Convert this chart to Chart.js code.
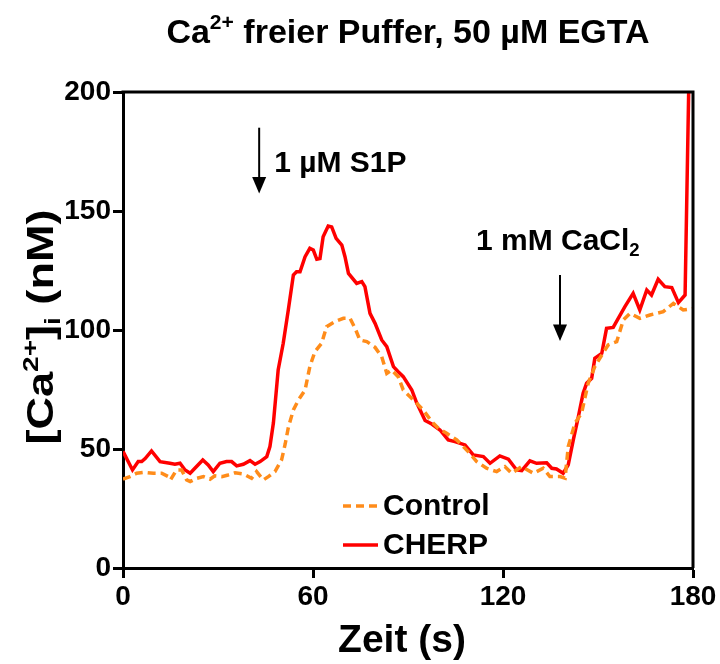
<!DOCTYPE html>
<html>
<head>
<meta charset="utf-8">
<script src="https://cdn.jsdelivr.net/npm/chart.js@4.4.1/dist/chart.umd.min.js"></script>
<style>
  html, body { margin: 0; padding: 0; background: #fff; }
  canvas { display: block; }
</style>
</head>
<body>
<canvas id="c" width="720" height="664"></canvas>
<script>
// Time (s) and intracellular calcium (nM) for each trace
const controlTime = [0, 2.2, 4.3, 6.9, 9.6, 12.2, 14.3, 15, 16.9, 18.5, 20.1, 21.2, 23.3, 25.4, 27.5, 29, 31.2, 33.2, 35.4, 38, 40.6, 42.2, 44.3, 45.9, 48, 50.1, 51.2, 52.2, 53.8, 55.4, 57.5, 59, 60.6, 62.7, 64.3, 66.9, 69.6, 71.7, 73.3, 74.8, 77, 79.6, 81.7, 83.3, 84.8, 86.9, 88.5, 91.7, 94.8, 97.5, 99.6, 102.2, 105.4, 109, 111.7, 114.8, 118, 120.6, 122.7, 125.9, 129.6, 132.7, 134.8, 138, 139.6, 140.6, 142.7, 144.8, 146.9, 149, 151.2, 153.2, 155.9, 158, 160.1, 163.2, 166.4, 170.6, 173.8, 176.9, 180];
const controlCa = [37.3, 38.4, 39.8, 40.2, 39.8, 39.8, 38.4, 37, 41.2, 41.2, 37, 36.3, 37.7, 38.4, 37.3, 38.7, 38.4, 39.1, 40, 39.5, 37.7, 40.5, 37, 38.4, 40.5, 45.5, 52, 59, 66.4, 70.6, 74.8, 84.6, 90.9, 94.4, 101.4, 103.5, 104.9, 104.9, 100.7, 95.8, 95.1, 92.7, 88.8, 81.8, 83.2, 80.4, 74.8, 70.6, 66.4, 61.5, 58.7, 56.6, 53.8, 48.9, 44.7, 41.9, 40.5, 42.6, 39.8, 42.6, 39.8, 41.9, 38.4, 38.4, 37.7, 51, 60.8, 65, 77.6, 84.6, 89.5, 93.7, 95.1, 104.2, 107, 104.9, 106.3, 107.7, 111.2, 108.4, 109];

const cherpTime = [0, 3, 4.8, 5.9, 7, 9, 11.7, 14.8, 16.4, 18, 19.6, 21.2, 22.7, 25.2, 26.9, 28.5, 30.6, 32.7, 34.3, 35.9, 38, 40.1, 41.7, 43.3, 45.4, 46.4, 47.5, 49, 50.6, 52.2, 53.8, 54.8, 55.9, 57.5, 59, 60.1, 61.2, 62.2, 63.2, 64.8, 65.9, 67.3, 69.1, 70.1, 71.2, 73.8, 75.4, 76.4, 78, 79.6, 81.7, 83.3, 85.4, 86.9, 88.5, 91.2, 92.7, 95.4, 97.5, 100.1, 102.7, 104.8, 108, 110.6, 113.8, 115.9, 119, 121.7, 124.3, 125.9, 128.5, 130.6, 133.8, 135.4, 136.9, 139, 140.6, 142.2, 143.8, 145.3, 146.4, 148, 149, 151.2, 152.7, 154.8, 156.4, 158.5, 161.1, 163.2, 165.4, 166.9, 169, 171.1, 173.3, 175.4, 177.5, 178.7];
const cherpCa = [49, 41.2, 44.7, 44.7, 46, 49.2, 44.7, 44, 43.6, 44, 41.2, 39.8, 41.9, 45.4, 43.3, 40.5, 44, 44.7, 44.7, 42.9, 43.6, 45.1, 43.6, 44.7, 46.8, 51, 61, 83.2, 94.4, 108.4, 123.1, 124.5, 124.5, 130.8, 134.3, 133.6, 129.7, 130, 139.2, 143.7, 143.3, 138.5, 135.7, 130.8, 123.8, 119.6, 120.3, 118.2, 107, 102.8, 95.8, 93, 84.6, 82.5, 80.4, 74.8, 69.5, 62, 60.5, 58, 53.8, 53.1, 51.7, 47.5, 46.8, 44, 47.1, 45.7, 41.2, 40.9, 45, 44, 44.2, 41.9, 41.6, 39.8, 43.3, 53.8, 63.6, 73.4, 77.6, 79.7, 88.1, 90.2, 100.7, 101.1, 104.9, 109.8, 115.4, 108.4, 116.8, 114.7, 121.3, 118.2, 117.8, 111.5, 114.7, 205];

const xTicks = [0, 60, 120, 180];
const yTicks = [0, 50, 100, 150, 200];
const seriesNames = ['Control', 'CHERP'];

// Stimulus markers: time (s) and arrow extent in nM
const s1pMark = { t: 43, from: 185, to: 157.4 };
const caMark = { t: 138, from: 123.1, to: 95.4 };

const FONT = "'Liberation Sans', Arial, Helvetica, sans-serif";
const ORANGE = '#FF8C1A';
const RED = '#FF0000';

// Draws text made of normal / superscript / subscript pieces
function richWidth(ctx, segs, size) {
  let w = 0;
  for (const s of segs) {
    const sz = s.k === 'n' ? size : size * 0.62;
    ctx.font = `bold ${sz}px ${FONT}`;
    w += ctx.measureText(s.t).width;
  }
  return w;
}
function drawRich(ctx, segs, x, y, size, align) {
  const w = richWidth(ctx, segs, size);
  let cx = align === 'center' ? x - w / 2 : x;
  ctx.textAlign = 'left';
  ctx.textBaseline = 'alphabetic';
  for (const s of segs) {
    const sz = s.k === 'n' ? size : size * 0.62;
    const dy = s.k === 'sup' ? -size * 0.4 : (s.k === 'sub' ? size * 0.2 : 0);
    ctx.font = `bold ${sz}px ${FONT}`;
    ctx.fillText(s.t, cx, y + dy);
    cx += ctx.measureText(s.t).width;
  }
}
function arrowDown(ctx, x, yTop, yTip) {
  const head = 16.5, half = 7;
  ctx.strokeStyle = '#000';
  ctx.fillStyle = '#000';
  ctx.lineWidth = 2;
  ctx.beginPath();
  ctx.moveTo(x, yTop);
  ctx.lineTo(x, yTip - head + 2);
  ctx.stroke();
  ctx.beginPath();
  ctx.moveTo(x - half, yTip - head);
  ctx.lineTo(x + half, yTip - head);
  ctx.lineTo(x, yTip);
  ctx.closePath();
  ctx.fill();
}

const decor = {
  id: 'decor',
  afterDraw(chart) {
    const ctx = chart.ctx;
    const a = chart.chartArea;
    const xs = chart.scales.x, ys = chart.scales.y;
    ctx.save();

    // closing frame on top and right
    ctx.strokeStyle = '#000';
    ctx.lineWidth = 3;
    ctx.beginPath();
    ctx.moveTo(a.left - 1.5, a.top);
    ctx.lineTo(a.right, a.top);
    ctx.lineTo(a.right, a.bottom);
    ctx.stroke();

    ctx.fillStyle = '#000';
    // title
    drawRich(ctx, [{ t: 'Ca', k: 'n' }, { t: '2+', k: 'sup' }, { t: ' freier Puffer, 50 µM EGTA', k: 'n' }],
      (a.left + a.right) / 2, 43, 34, 'center');

    // x axis title
    drawRich(ctx, [{ t: 'Zeit (s)', k: 'n' }], 402, 652, 39, 'center');

    // y axis title (slightly widened lettering)
    ctx.save();
    ctx.translate(53, 327);
    ctx.rotate(-Math.PI / 2);
    ctx.scale(1.22, 1);
    drawRich(ctx, [{ t: '[Ca', k: 'n' }, { t: '2+', k: 'sup' }, { t: ']', k: 'n' }, { t: 'i', k: 'sub' }, { t: ' (nM)', k: 'n' }],
      0, 0, 37, 'center');
    ctx.restore();

    // stimulus arrows and labels
    const sx = xs.getPixelForValue(s1pMark.t);
    arrowDown(ctx, sx, ys.getPixelForValue(s1pMark.from), ys.getPixelForValue(s1pMark.to));
    ctx.fillStyle = '#000';
    drawRich(ctx, [{ t: '1 µM S1P', k: 'n' }], sx + 15, 172, 30, 'left');

    const cx = xs.getPixelForValue(caMark.t);
    arrowDown(ctx, cx, ys.getPixelForValue(caMark.from), ys.getPixelForValue(caMark.to));
    ctx.fillStyle = '#000';
    drawRich(ctx, [{ t: '1 mM CaCl', k: 'n' }, { t: '2', k: 'sub' }], cx - 84, 250, 30, 'left');

    // legend
    const lx0 = 343, lx1 = 378;
    const rows = [
      { y: 506, color: ORANGE, dash: [8, 5] },
      { y: 545, color: RED, dash: [] }
    ];
    rows.forEach((r, i) => {
      ctx.strokeStyle = r.color;
      ctx.lineWidth = 3.5;
      ctx.setLineDash(r.dash);
      ctx.beginPath();
      ctx.moveTo(lx0, r.y);
      ctx.lineTo(lx1, r.y);
      ctx.stroke();
      ctx.setLineDash([]);
      ctx.fillStyle = '#000';
      ctx.font = `bold 30px ${FONT}`;
      ctx.textAlign = 'left';
      ctx.textBaseline = 'middle';
      ctx.fillText(seriesNames[i], 383, r.y + 1);
    });
    ctx.restore();
  }
};

Chart.defaults.font.family = FONT;
Chart.defaults.color = '#000';

new Chart(document.getElementById('c').getContext('2d'), {
  type: 'line',
  data: {
    datasets: [
      {
        label: seriesNames[0],
        data: controlTime.map((t, i) => ({ x: t, y: controlCa[i] })),
        borderColor: ORANGE,
        borderWidth: 3.5,
        borderDash: [8, 5],
        pointRadius: 0,
        tension: 0,
        fill: false
      },
      {
        label: seriesNames[1],
        data: cherpTime.map((t, i) => ({ x: t, y: cherpCa[i] })),
        borderColor: RED,
        borderWidth: 3.5,
        pointRadius: 0,
        tension: 0,
        fill: false
      }
    ]
  },
  options: {
    responsive: false,
    animation: false,
    devicePixelRatio: 1,
    layout: { padding: { top: 92, right: 27, left: 0, bottom: 0 } },
    plugins: { legend: { display: false }, title: { display: false }, tooltip: { enabled: false } },
    scales: {
      x: {
        type: 'linear',
        min: 0,
        max: 180,
        afterBuildTicks: s => { s.ticks = xTicks.map(v => ({ value: v })); },
        afterFit: s => { s.height = 96; },
        grid: { drawOnChartArea: false, color: '#000', tickColor: '#000', tickLength: 10, tickWidth: 3 },
        border: { color: '#000', width: 3 },
        ticks: { font: { size: 28, weight: 'bold' }, padding: 2, maxRotation: 0, autoSkip: false, color: '#000' }
      },
      y: {
        type: 'linear',
        min: 0,
        max: 200,
        afterBuildTicks: s => { s.ticks = yTicks.map(v => ({ value: v })); },
        afterFit: s => { s.width = 123; },
        grid: { drawOnChartArea: false, color: '#000', tickColor: '#000', tickLength: 10, tickWidth: 3 },
        border: { color: '#000', width: 3 },
        ticks: { font: { size: 28, weight: 'bold' }, padding: 2, autoSkip: false, color: '#000' }
      }
    }
  },
  plugins: [decor]
});
</script>
</body>
</html>
